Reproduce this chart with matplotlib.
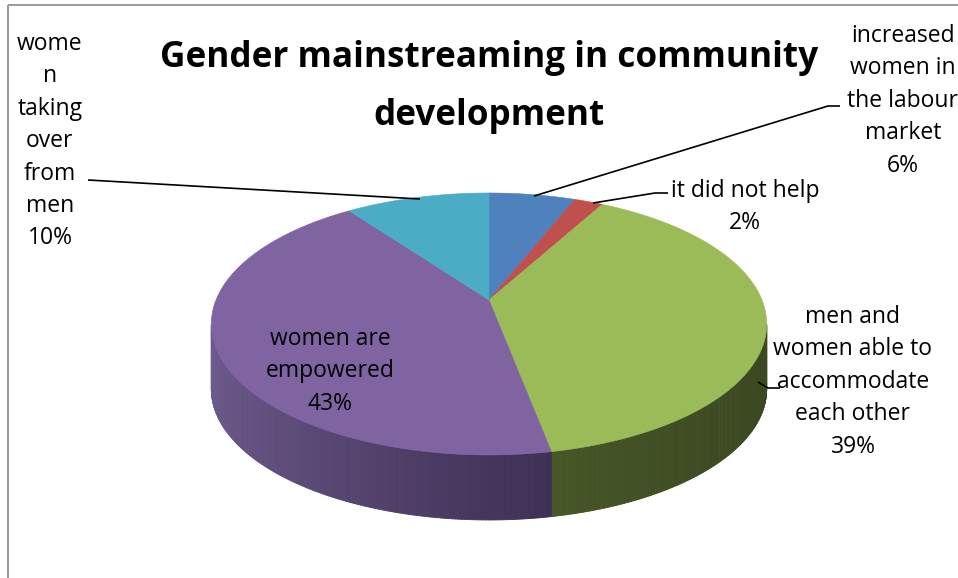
import numpy as np
import matplotlib
matplotlib.use("Agg")
import matplotlib.pyplot as plt
from matplotlib.patches import Polygon
from matplotlib.collections import PolyCollection
from matplotlib.colors import to_rgb

# ---- data ----
title_lines = ["Gender mainstreaming in community", "development"]
categories = ["increased\nwomen in\nthe labour\nmarket",
              "it did not help",
              "men and\nwomen able to\naccommodate\neach other",
              "women are\nempowered",
              "wome\nn\ntaking\nover\nfrom\nmen"]
values = [6, 2, 39, 43, 10]
top_colors = ["#4F81BD", "#C0504D", "#9BBB59", "#8064A2", "#4BACC6"]
side_left = ["#3a5f8c", "#8e3b39", "#485828", "#6d5b8d", "#38808f"]
side_right = ["#2c486b", "#6c2d2b", "#3c4821", "#3f3055", "#2b6270"]

# ---- figure in pixel coordinates ----
W, H = 958, 578
fig = plt.figure(figsize=(W / 100, H / 100), dpi=100)
ax = fig.add_axes([0, 0, 1, 1])
ax.set_xlim(0, W)
ax.set_ylim(H, 0)
ax.axis("off")

# pie geometry (perspective projected disc)
cx, cy = 489, 300
Rx, Ry, p = 273, 126.6, 0.183
depth = 65


def proj(theta):
    t = np.radians(theta)
    u, w = np.sin(t), np.cos(t)
    den = 1 + p * w
    return cx + Rx * u / den, cy - Ry * w / den


total = sum(values)
bounds = np.concatenate([[0], np.cumsum(values)]) / total * 360.0

# sides
for i in range(len(values)):
    th = np.linspace(bounds[i], bounds[i + 1], 300)
    xs, ys = proj(th)
    quads, cols = [], []
    cl, cr = np.array(to_rgb(side_left[i])), np.array(to_rgb(side_right[i]))
    front = [j for j in range(len(th) - 1) if xs[j + 1] < xs[j]]
    if not front:
        continue
    xmin = min(xs[j] for j in front)
    xmax = max(xs[j] for j in front) + 1e-9
    for j in front:
        quads.append([(xs[j], ys[j]), (xs[j + 1], ys[j + 1]),
                      (xs[j + 1], ys[j + 1] + depth), (xs[j], ys[j] + depth)])
        f = ((xs[j] - xmin) / (xmax - xmin)) ** 0.7
        cols.append(tuple(cl * (1 - f) + cr * f))
    pc = PolyCollection(quads, facecolors=cols, edgecolors=cols, linewidths=0.6, zorder=1)
    ax.add_collection(pc)

# top faces
for i in range(len(values)):
    th = np.linspace(bounds[i], bounds[i + 1], 200)
    xs, ys = proj(th)
    pts = [(cx, cy)] + list(zip(xs, ys))
    ax.add_patch(Polygon(pts, closed=True, facecolor=top_colors[i],
                         edgecolor=top_colors[i], linewidth=0.4, zorder=2))

# ---- frame ----
ax.plot([8, W], [5, 5], color="#878787", lw=1.2, zorder=5, solid_capstyle="butt")
ax.plot([8, 8], [5, H], color="#878787", lw=1.2, zorder=5, solid_capstyle="butt")

# ---- title ----
tfont = dict(family="Open Sans", fontsize=25.3, fontweight="bold", color="black")
for k, (line, base) in enumerate(zip(title_lines, [67, 125])):
    ax.text(489, base, line, ha="center", va="baseline", zorder=6, **tfont)

# ---- labels ----
lfont = dict(family="Open Sans", fontsize=16.5, color="black")
label_pos = [(903, 42), (745, 197), (853, 323), (330, 345), (50, 50)]
spacing = 32.4
for i, cat in enumerate(categories):
    lines = cat.split("\n") + [f"{values[i]}%"]
    x0, b0 = label_pos[i]
    for k, line in enumerate(lines):
        ax.text(x0, b0 + k * spacing, line, ha="center", va="baseline", zorder=6, **lfont)

# ---- leader lines ----
lk = dict(color="black", lw=1.2, zorder=4, solid_capstyle="butt")
ax.plot([534, 828, 840], [196, 106, 106], **lk)
ax.plot([593, 655, 668], [203, 193, 193], **lk)
ax.plot([758, 768, 780], [382, 388, 388], **lk)
ax.plot([88, 420], [180, 199], **lk)

fig.savefig("out.png", dpi=100)
